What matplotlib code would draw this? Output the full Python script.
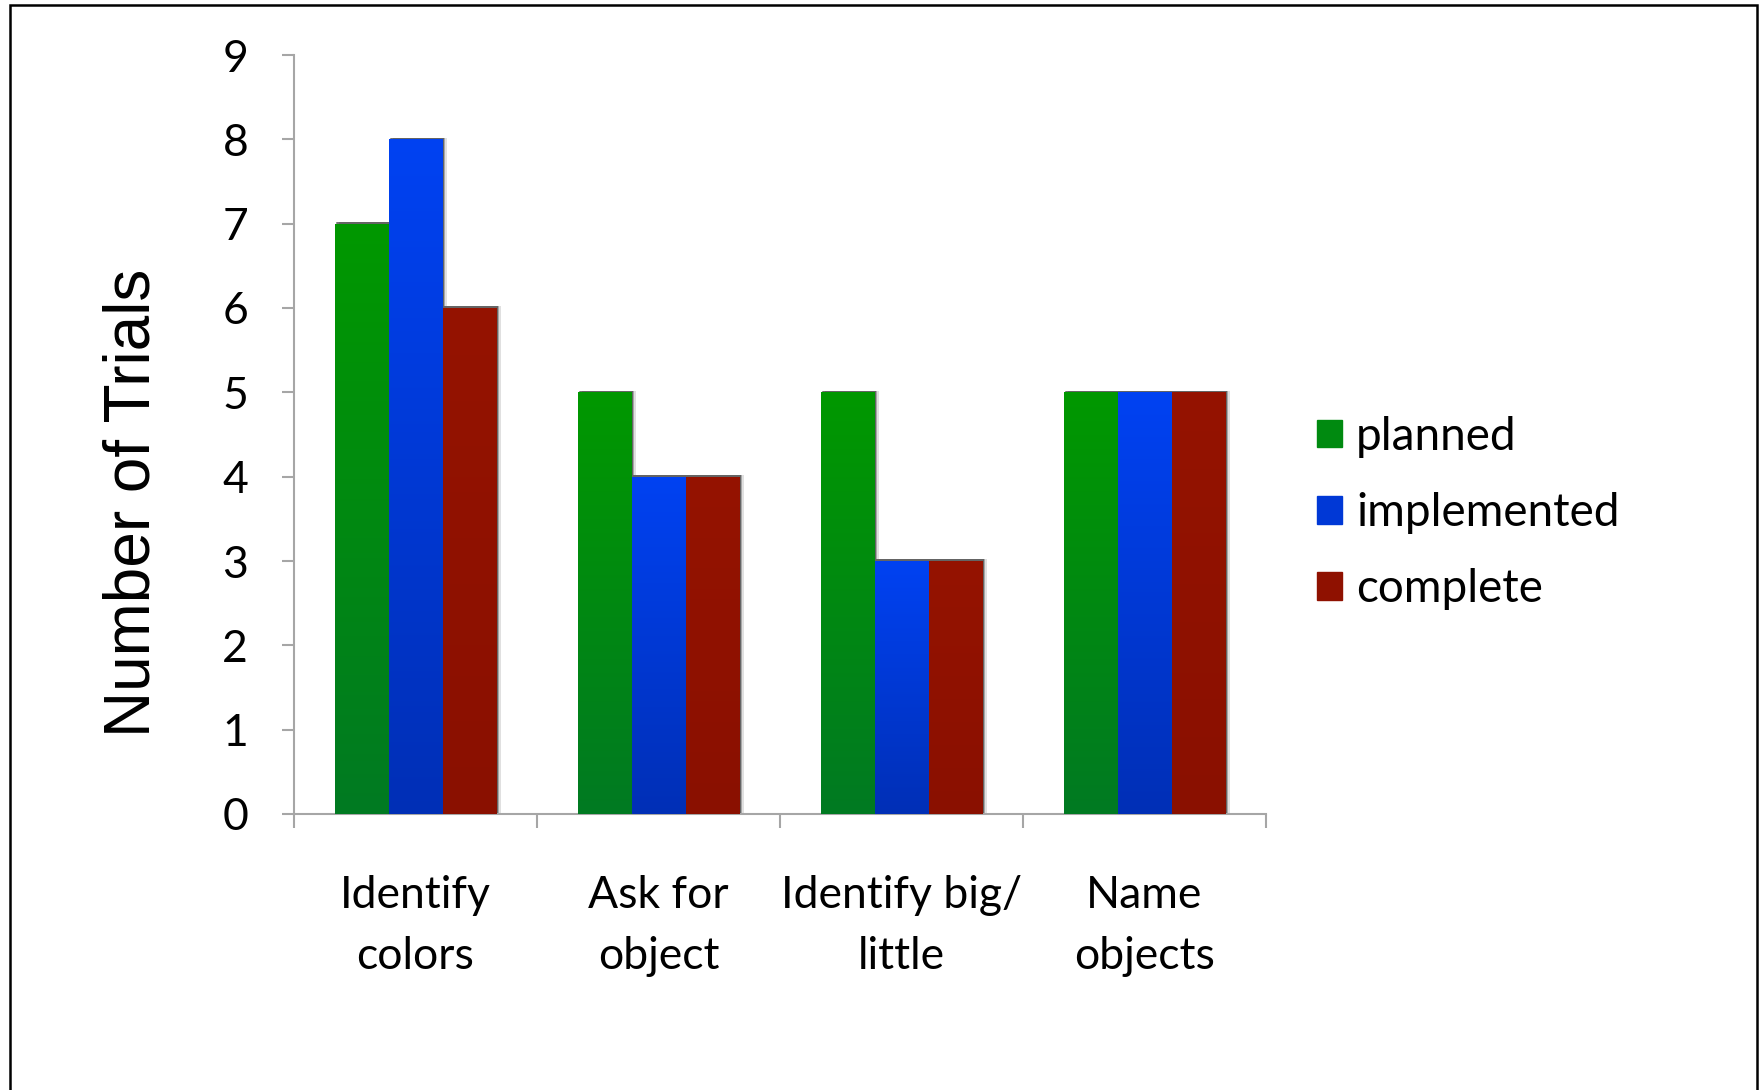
import numpy as np
import matplotlib.pyplot as plt
from matplotlib.patches import Rectangle
from matplotlib.colors import LinearSegmentedColormap

# ---------------- datos ----------------
categorias = ["Identify\ncolors", "Ask for\nobject", "Identify big/\nlittle", "Name\nobjects"]
planned = [7, 5, 5, 5]
implemented = [8, 4, 3, 5]
complete = [6, 4, 3, 5]
series = ["planned", "implemented", "complete"]

# colores (arriba, abajo) para el degradado
col_top = ["#009800", "#0042f2", "#951300"]
col_bot = ["#007a22", "#002fb6", "#8a1000"]
col_leg = ["#008a10", "#0038d6", "#8f1100"]

fig = plt.figure(figsize=(17.62, 10.90), dpi=100)
ax = fig.add_axes([294/1762, 1-814/1090, (1266-294)/1762, (814-55)/1090])

x = np.arange(len(categorias))
w = 2/9
valores = [planned, implemented, complete]

for k, vals in enumerate(valores):
    cmap = LinearSegmentedColormap.from_list("g%d" % k, [col_bot[k], col_top[k]])
    for i, v in enumerate(vals):
        x0 = x[i] - 1.5*w + k*w
        # sombra
        for off, a in [(0.006, 0.4), (0.012, 0.25), (0.018, 0.12)]:
            ax.add_patch(Rectangle((x0 + off, 0), w, v + 0.02, color="black",
                                   alpha=a, lw=0, zorder=1))
        bar = ax.bar(x0, v, w, align="edge", color=col_leg[k], lw=0, zorder=2)[0]
        grad = np.linspace(0, 1, 256).reshape(-1, 1)
        im = ax.imshow(grad, cmap=cmap, extent=[x0, x0 + w, 0, v], origin="lower",
                       aspect="auto", zorder=3)
        im.set_clip_path(bar)

ax.set_xlim(-0.5, 3.5)
ax.set_ylim(0, 9)

gris = "#a6a6a6"
for s in ["top", "right"]:
    ax.spines[s].set_visible(False)
for s in ["left", "bottom"]:
    ax.spines[s].set_color(gris)
    ax.spines[s].set_linewidth(1.5)

ax.set_yticks(range(10))
ax.tick_params(axis="y", length=9, width=1.5, color=gris, pad=24,
               labelsize=32)
ax.set_xticks(x)
ax.set_xticklabels(categorias, linespacing=1.6)
ax.set_xticks([-0.5, 0.5, 1.5, 2.5, 3.5], minor=True)
ax.tick_params(axis="x", which="major", length=0, pad=44, labelsize=32)
ax.tick_params(axis="x", which="minor", length=10, width=1.5, color=gris)
for t in ax.get_xticklabels() + ax.get_yticklabels():
    t.set_fontfamily("Lato")

fig.text(133/1762, 1-503/1090, "Number of Trials", rotation=90, ha="center",
         va="center", fontsize=46, family="Liberation Sans")

handles = [Rectangle((0, 0), 1, 1, color=c) for c in col_leg]
fig.legend(handles, series, loc="center left",
           bbox_to_anchor=(1317/1762, 1-513/1090), frameon=False,
           borderpad=0, borderaxespad=0, handlelength=0.55, handleheight=0.55,
           handletextpad=0.3, labelspacing=0.75,
           prop={"family": "Lato", "size": 33})

# marco de la figura
fig.patches.append(Rectangle((10/1762, -0.1), (1757-10)/1762, 1.1 - 5/1090,
                             transform=fig.transFigure, fill=False,
                             ec="black", lw=1.8))

fig.savefig("out.png", dpi=100)
